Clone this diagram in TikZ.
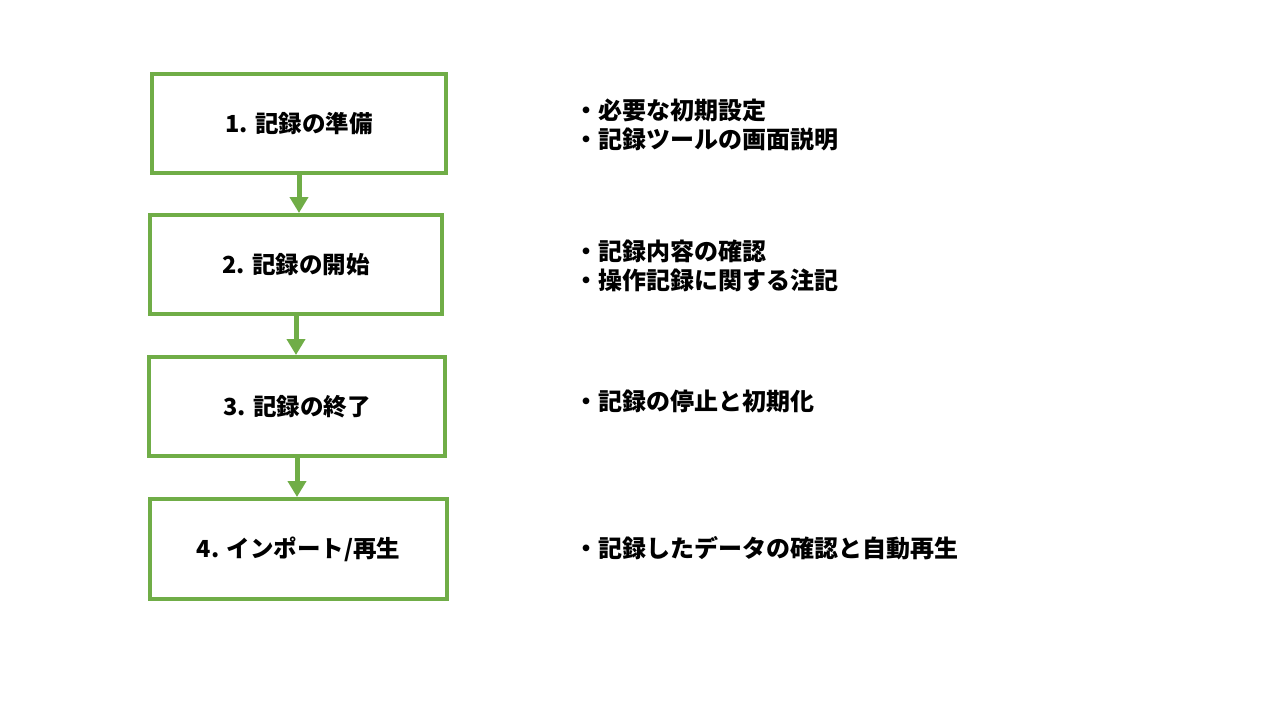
\documentclass[tikz,border=0pt]{standalone}
\usepackage{fontspec}
\setmainfont{Noto Sans CJK JP}
\usetikzlibrary{arrows.meta}
\definecolor{stepgreen}{HTML}{70AD47}
\begin{document}
\begin{tikzpicture}[x=1pt,y=-1pt,
  stepbox/.style={draw=stepgreen,line width=4pt,fill=white,inner sep=0pt,
    font=\fontsize{23.5}{27}\selectfont\bfseries},
  note/.style={anchor=west,inner sep=0pt,align=left,
    font=\fontsize{24}{29}\selectfont\bfseries},
  flow/.style={draw=stepgreen,line width=5pt,
    -{Triangle[width=18pt,length=16pt]}}]
\useasboundingbox[fill=white] (0,0) rectangle (1280,720);

% process steps
\node[stepbox,minimum width=294pt,minimum height=99pt] (b1) at (299,123.5) {1. 記録の準備};
\node[stepbox,minimum width=292pt,minimum height=99pt] (b2) at (296,264.5) {2. 記録の開始};
\node[stepbox,minimum width=296pt,minimum height=99pt] (b3) at (297,406.5) {3. 記録の終了};
\node[stepbox,minimum width=297pt,minimum height=100pt] (b4) at (298.5,549) {4. インポート/再生};

% connectors
\draw[flow] (b1.south) -- (b1.south |- b2.north);
\draw[flow] (b2.south) -- (b2.south |- b3.north);
\draw[flow] (b3.south) -- (b3.south |- b4.north);

% notes beside each step
\node[note] (n1) at (574,125) {・必要な初期設定\\・記録ツールの画面説明};
\node[note] (n2) at (574,266) {・記録内容の確認\\・操作記録に関する注記};
\node[note] (n3) at (574,401) {・記録の停止と初期化};
\node[note] (n4) at (574,548) {・記録したデータの確認と自動再生};
\end{tikzpicture}
\end{document}
